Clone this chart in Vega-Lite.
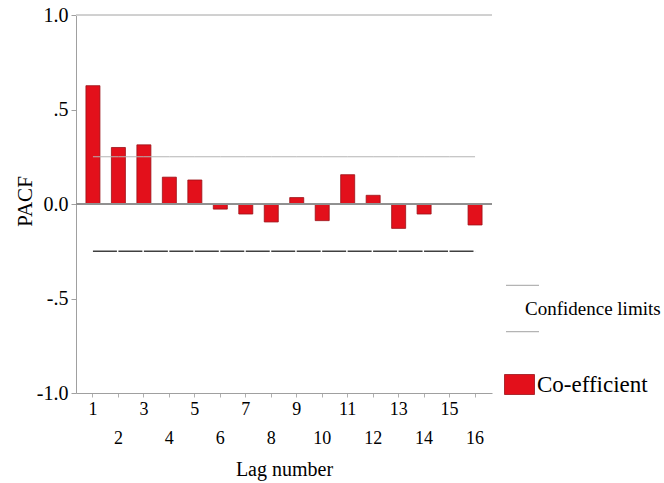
{
  "$schema": "https://vega.github.io/schema/vega-lite/v6.json",
  "autosize": {"type": "none"},
  "padding": {"left": 76, "top": 15, "right": 172, "bottom": 90},
  "width": 416,
  "height": 378,
  "background": "white",
  "config": {
    "view": {"stroke": null},
    "font": "Liberation Serif"
  },
  "data": {
    "values": [
      {"lag": 1, "pacf": 0.626, "ucl": 0.25, "lcl": -0.25},
      {"lag": 2, "pacf": 0.299, "ucl": 0.25, "lcl": -0.25},
      {"lag": 3, "pacf": 0.313, "ucl": 0.25, "lcl": -0.25},
      {"lag": 4, "pacf": 0.142, "ucl": 0.25, "lcl": -0.25},
      {"lag": 5, "pacf": 0.127, "ucl": 0.25, "lcl": -0.25},
      {"lag": 6, "pacf": -0.027, "ucl": 0.25, "lcl": -0.25},
      {"lag": 7, "pacf": -0.053, "ucl": 0.25, "lcl": -0.25},
      {"lag": 8, "pacf": -0.095, "ucl": 0.25, "lcl": -0.25},
      {"lag": 9, "pacf": 0.034, "ucl": 0.25, "lcl": -0.25},
      {"lag": 10, "pacf": -0.088, "ucl": 0.25, "lcl": -0.25},
      {"lag": 11, "pacf": 0.155, "ucl": 0.25, "lcl": -0.25},
      {"lag": 12, "pacf": 0.046, "ucl": 0.25, "lcl": -0.25},
      {"lag": 13, "pacf": -0.129, "ucl": 0.25, "lcl": -0.25},
      {"lag": 14, "pacf": -0.053, "ucl": 0.25, "lcl": -0.25},
      {"lag": 15, "pacf": null, "ucl": 0.25, "lcl": -0.25},
      {"lag": 16, "pacf": -0.111, "ucl": 0.25, "lcl": -0.25}
    ]
  },
  "layer": [
    {
      "mark": {"type": "rule", "color": "#d0d0d0", "strokeWidth": 1},
      "encoding": {"y": {"datum": 1}}
    },
    {
      "mark": {"type": "bar", "stroke": "#9a1218", "strokeWidth": 0.8},
      "encoding": {
        "x": {
          "field": "lag",
          "type": "ordinal",
          "scale": {"paddingInner": 0.45, "paddingOuter": 0.39},
          "axis": {
            "title": "Lag number",
            "titleFont": "Liberation Serif",
            "titleFontSize": 20,
            "titleFontWeight": "normal",
            "titleColor": "#000",
            "titleBaseline": "middle",
            "titleY": 76,
            "labelAngle": 0,
            "labelFont": "Liberation Serif",
            "labelFontSize": 18,
            "labelColor": "#000",
            "labelBaseline": "top",
            "labelPadding": 3,
            "labelLineHeight": 29,
            "labelExpr": "datum.value % 2 == 0 ? ['', datum.label] : datum.label",
            "domainColor": "#a0a0a0",
            "tickColor": "#b0b0b0",
            "tickSize": 4,
            "grid": false
          }
        },
        "y": {
          "field": "pacf",
          "type": "quantitative",
          "scale": {"domain": [-1, 1], "nice": false, "zero": false},
          "axis": {
            "title": "PACF",
            "titleFont": "Liberation Serif",
            "titleFontSize": 21,
            "titleFontWeight": "normal",
            "titleColor": "#000",
            "titleBaseline": "middle",
            "titleX": -51,
            "titleY": 186,
            "values": [-1, -0.5, 0, 0.5, 1],
            "labelExpr": "datum.value == 1 ? '1.0' : datum.value == 0.5 ? '.5' : datum.value == 0 ? '0.0' : datum.value == -0.5 ? '-.5' : '-1.0'",
            "labelFont": "Liberation Serif",
            "labelFontSize": 20,
            "labelColor": "#000",
            "labelPadding": 3,
            "domainColor": "#a0a0a0",
            "tickColor": "#a0a0a0",
            "tickSize": 5,
            "grid": false
          }
        },
        "fill": {
          "datum": "Co-efficient",
          "scale": {"range": ["#e3101b"]},
          "legend": {
            "orient": "none",
            "legendX": 432,
            "legendY": 358,
            "title": null,
            "padding": 0,
            "symbolType": "M-1.5,-1H1.5V1H-1.5Z",
            "symbolSize": 400,
            "symbolStrokeColor": "#9a1218",
            "symbolStrokeWidth": 0.8,
            "labelOffset": 6,
            "labelFont": "Liberation Serif",
            "labelFontSize": 23,
            "labelColor": "#000",
            "labelLimit": 200
          }
        }
      }
    },
    {
      "mark": {"type": "rule", "color": "#909090", "strokeWidth": 1},
      "encoding": {"y": {"datum": 0}}
    },
    {
      "mark": {"type": "line", "strokeWidth": 1},
      "encoding": {
        "x": {"field": "lag", "type": "ordinal"},
        "y": {"field": "ucl", "type": "quantitative"},
        "stroke": {
          "datum": "Confidence limits",
          "scale": {"range": ["#b4b4b4"]},
          "legend": {
            "orient": "none",
            "legendX": 429,
            "legendY": 276,
            "title": null,
            "padding": 0,
            "symbolType": "M-1,-1.4H1M-1,1.4H1",
            "symbolSize": 1089,
            "symbolStrokeWidth": 1.2,
            "labelOffset": -15,
            "labelFont": "Liberation Serif",
            "labelFontSize": 19,
            "labelColor": "#000",
            "labelLimit": 200
          }
        }
      }
    },
    {
      "mark": {"type": "line", "strokeWidth": 1.3, "color": "#404040", "strokeDash": [23.97, 1.5]},
      "encoding": {
        "x": {"field": "lag", "type": "ordinal"},
        "y": {"field": "lcl", "type": "quantitative"}
      }
    }
  ]
}
